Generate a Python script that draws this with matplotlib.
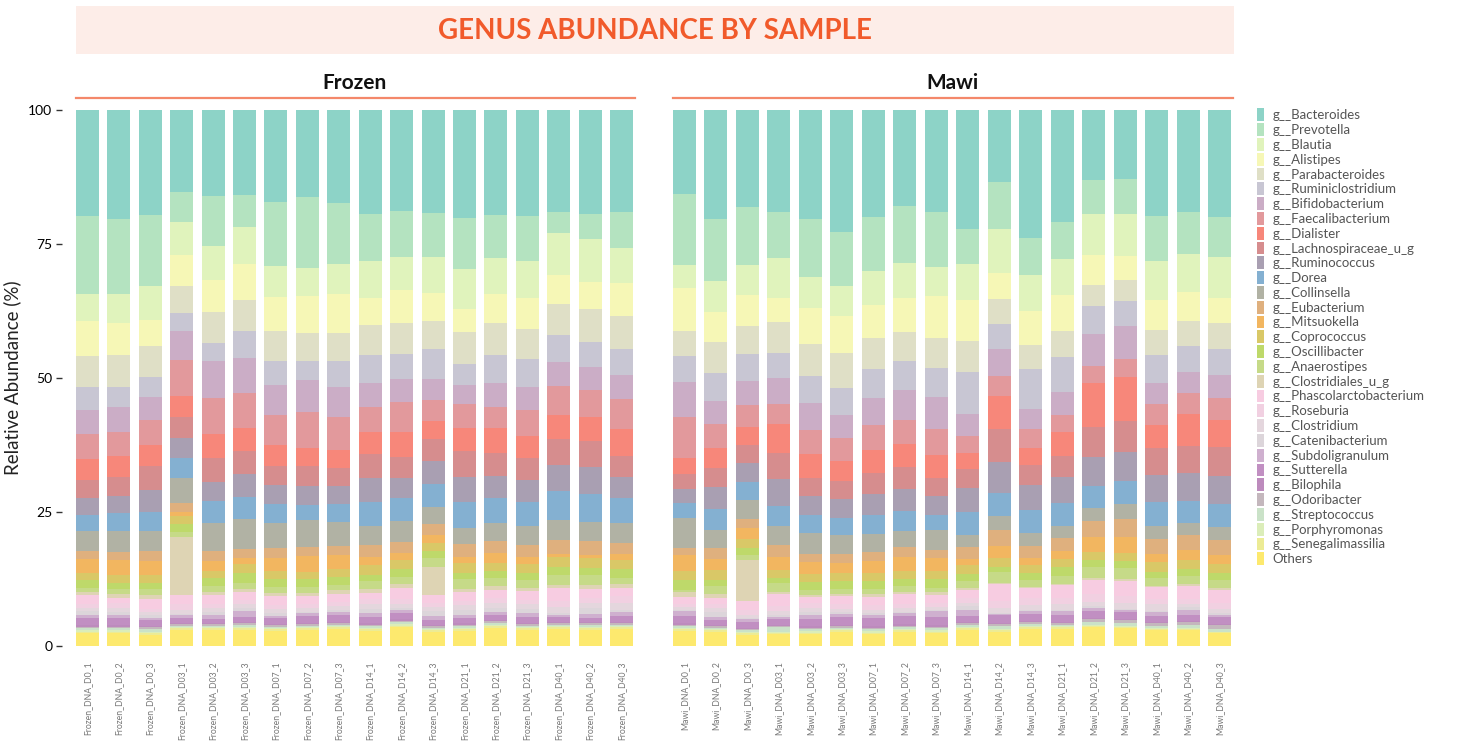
import matplotlib
matplotlib.use("Agg")
import matplotlib.pyplot as plt
from matplotlib.patches import Patch, Rectangle
from matplotlib.lines import Line2D
import numpy as np

plt.rcParams['font.family'] = ['Lato', 'DejaVu Sans']

days = ["D0_1", "D0_2", "D0_3", "D03_1", "D03_2", "D03_3", "D07_1", "D07_2", "D07_3",
        "D14_1", "D14_2", "D14_3", "D21_1", "D21_2", "D21_3", "D40_1", "D40_2", "D40_3"]
frozen_samples = ["Frozen_DNA_" + d for d in days]
mawi_samples = ["Mawi_DNA_" + d for d in days]
panels = ["Frozen", "Mawi"]

genera = ["g__Bacteroides", "g__Prevotella", "g__Blautia", "g__Alistipes", "g__Parabacteroides",
          "g__Ruminiclostridium", "g__Bifidobacterium", "g__Faecalibacterium", "g__Dialister",
          "g__Lachnospiraceae_u_g", "g__Ruminococcus", "g__Dorea", "g__Collinsella", "g__Eubacterium",
          "g__Mitsuokella", "g__Coprococcus", "g__Oscillibacter", "g__Anaerostipes", "g__Clostridiales_u_g",
          "g__Phascolarctobacterium", "g__Roseburia", "g__Clostridium", "g__Catenibacterium",
          "g__Subdoligranulum", "g__Sutterella", "g__Bilophila", "g__Odoribacter", "g__Streptococcus",
          "g__Porphyromonas", "g__Senegalimassilia", "Others"]

colors = ["#8dd3c7", "#b4e3c0", "#e0f3bc", "#f6f7b6", "#dfdfc6",
          "#c8c6d3", "#cbadc6", "#e2999c", "#f7877a",
          "#d68d8e", "#a99fb2", "#84b0d1", "#b1b2a4", "#dfb07e",
          "#f2b660", "#d9c867", "#bed96a", "#c6da88", "#ded4b4",
          "#f7cce1", "#f1d0e1", "#e4d6dd", "#dcd5da",
          "#cfb0cf", "#c18fc2", "#bd8bbd", "#c4b7bd", "#cae2c8",
          "#dbedb9", "#eceb95", "#fde96e"]

# values (%) : first 18 = Frozen samples, last 18 = Mawi samples
bacteroides = [19.8, 20.3, 19.6, 15.3, 16.0, 15.9, 17.2, 16.2, 17.4, 19.4, 18.8, 19.2, 20.1, 19.6, 19.8, 19.0, 19.4, 19.0,
               15.7, 20.3, 18.1, 19.0, 20.3, 22.8, 20.0, 17.9, 19.0, 22.2, 13.4, 23.9, 20.9, 13.1, 12.9, 19.8, 19.0, 20.0]
prevotella = [14.5, 14.0, 13.2, 5.6, 9.4, 5.9, 11.9, 13.3, 11.3, 8.8, 8.6, 8.2, 9.6, 8.0, 8.4, 3.9, 4.7, 6.7,
              13.2, 11.6, 10.8, 8.6, 10.9, 10.0, 10.0, 10.6, 10.3, 6.5, 8.8, 6.9, 6.9, 6.3, 6.5, 8.4, 7.9, 7.4]
blautia = [5.1, 5.4, 6.4, 6.2, 6.3, 6.9, 5.8, 5.2, 5.6, 6.9, 6.2, 6.7, 7.4, 6.7, 6.9, 7.9, 8.0, 6.6,
           4.3, 5.8, 5.6, 7.5, 5.7, 5.6, 6.4, 6.6, 5.4, 6.7, 8.2, 6.7, 6.7, 7.7, 7.8, 7.2, 7.1, 7.7]
alistipes = [6.5, 6.0, 4.8, 5.7, 6.0, 6.7, 6.3, 6.9, 7.3, 5.0, 6.1, 5.3, 4.3, 5.4, 5.8, 5.4, 5.0, 6.1,
             8.0, 5.6, 5.8, 4.5, 6.8, 6.9, 6.1, 6.3, 7.8, 7.7, 4.9, 6.3, 6.7, 5.6, 4.5, 5.6, 5.4, 4.7]
parabacteroides = [5.8, 6.0, 5.8, 5.1, 5.8, 5.8, 5.6, 5.2, 5.2, 5.6, 5.8, 5.2, 6.0, 6.0, 5.6, 5.8, 6.2, 6.2,
                   4.7, 5.8, 5.2, 5.7, 5.9, 6.6, 5.8, 5.4, 5.6, 5.8, 4.6, 4.5, 4.9, 3.9, 3.9, 4.7, 4.7, 4.8]
ruminiclostridium = [4.3, 3.7, 3.8, 3.3, 3.3, 5.1, 4.5, 3.6, 4.9, 5.2, 4.7, 5.6, 3.9, 5.2, 5.2, 5.0, 4.6, 4.8,
                     4.8, 5.2, 5.1, 4.7, 5.1, 5.0, 5.4, 5.4, 5.4, 7.8, 4.7, 7.5, 6.5, 5.1, 4.7, 5.2, 4.8, 4.8]
bifidobacterium = [4.4, 4.7, 4.2, 5.4, 6.9, 6.5, 5.6, 5.9, 5.6, 4.5, 4.3, 3.9, 3.6, 4.5, 4.3, 4.5, 4.3, 4.5,
                   6.6, 4.3, 4.4, 4.9, 5.0, 4.3, 5.1, 5.6, 6.0, 4.1, 5.0, 3.7, 4.3, 6.1, 6.2, 4.0, 3.9, 4.3]
faecalibacterium = [4.7, 4.5, 4.7, 6.8, 6.7, 6.5, 5.6, 6.8, 6.1, 4.7, 5.6, 3.9, 4.4, 3.9, 4.8, 5.4, 5.1, 5.6,
                    7.6, 4.5, 4.1, 3.7, 4.5, 4.3, 4.6, 4.5, 4.9, 3.2, 3.8, 3.6, 3.2, 3.1, 3.3, 3.9, 3.9, 4.1]
dialister = [3.9, 3.9, 3.9, 3.9, 4.5, 4.3, 3.9, 3.3, 3.4, 4.1, 4.6, 3.4, 4.3, 4.7, 4.1, 4.5, 4.5, 5.1,
             3.0, 3.7, 3.4, 5.4, 4.5, 3.7, 4.3, 4.3, 4.3, 3.0, 6.1, 3.1, 4.5, 8.2, 8.2, 4.3, 6.0, 5.1]
lachnospiraceae = [3.4, 3.5, 4.5, 3.9, 4.5, 4.3, 3.6, 3.7, 3.3, 4.5, 4.0, 4.1, 4.9, 4.3, 4.1, 4.8, 4.8, 3.9,
                   2.8, 3.5, 3.4, 4.8, 3.3, 3.4, 3.9, 4.1, 3.3, 3.5, 6.2, 3.8, 3.9, 5.6, 5.8, 5.0, 5.0, 5.4]
ruminococcus = [3.2, 3.2, 4.1, 3.7, 3.5, 4.3, 3.5, 3.6, 3.4, 4.4, 3.7, 4.3, 4.6, 4.1, 4.1, 4.9, 5.0, 3.9,
                2.6, 4.1, 3.5, 5.1, 3.6, 3.5, 4.0, 4.1, 3.6, 4.5, 5.8, 4.6, 4.8, 5.4, 5.4, 5.0, 5.2, 5.2]
dorea = [2.9, 3.3, 3.5, 3.8, 4.2, 4.1, 3.6, 2.8, 3.4, 4.5, 4.3, 4.3, 4.9, 4.7, 4.5, 5.4, 5.3, 4.7,
         2.8, 4.0, 3.4, 3.7, 3.3, 3.2, 3.5, 3.7, 2.8, 4.3, 4.2, 4.3, 4.3, 4.2, 4.3, 4.5, 4.2, 4.3]
collinsella = [3.8, 4.0, 3.8, 4.6, 5.2, 5.6, 4.6, 5.0, 4.4, 3.6, 3.9, 3.1, 3.0, 3.3, 3.6, 3.7, 3.5, 3.7,
               5.6, 3.3, 3.5, 3.6, 3.9, 3.5, 3.4, 3.0, 3.7, 2.2, 2.7, 2.4, 2.3, 2.4, 2.8, 2.4, 2.2, 2.4]
eubacterium = [1.5, 1.5, 1.8, 1.7, 1.8, 1.7, 1.9, 1.7, 1.7, 2.2, 2.0, 2.1, 2.4, 2.2, 2.2, 2.6, 2.6, 2.0,
               1.3, 2.1, 1.7, 2.2, 1.5, 1.7, 1.6, 1.9, 1.5, 2.3, 2.9, 2.3, 2.4, 3.0, 3.4, 2.8, 2.8, 2.8]
mitsuokella = [2.6, 2.8, 2.7, 0.7, 1.9, 1.1, 2.4, 3.0, 2.6, 1.5, 1.4, 1.5, 1.1, 1.9, 1.3, 0.6, 0.6, 1.2,
               3.0, 2.0, 2.0, 2.4, 2.3, 1.9, 2.3, 2.6, 2.4, 1.1, 2.2, 1.3, 1.5, 2.8, 2.9, 1.5, 1.9, 1.7]
coprococcus = [1.3, 1.4, 1.4, 1.5, 1.3, 1.7, 1.5, 1.3, 1.5, 1.9, 1.6, 1.5, 1.9, 1.5, 1.7, 1.9, 1.8, 1.6,
               1.7, 1.9, 1.7, 1.5, 1.5, 1.5, 1.5, 1.5, 1.5, 1.7, 1.8, 1.5, 1.5, 1.5, 1.5, 1.9, 1.6, 1.7]
oscillibacter = [1.5, 1.2, 1.2, 1.5, 1.5, 1.8, 1.5, 1.5, 1.5, 1.1, 1.5, 1.3, 1.1, 1.3, 1.3, 1.5, 1.4, 1.7,
                 1.9, 1.1, 1.3, 0.9, 1.5, 1.5, 1.5, 1.3, 1.7, 1.3, 0.9, 1.3, 1.6, 1.3, 1.3, 1.1, 1.3, 1.3]
anaerostipes = [0.7, 0.9, 1.1, 1.0, 1.1, 1.2, 1.1, 1.1, 1.0, 1.5, 1.3, 1.7, 1.9, 1.5, 1.5, 1.8, 1.8, 1.1,
                0.3, 1.5, 1.0, 1.7, 0.9, 0.9, 0.9, 1.1, 0.7, 1.3, 2.0, 1.3, 1.5, 2.0, 2.1, 1.5, 1.5, 1.5]
clostridiales_ug = [0.6, 0.7, 0.7, 10.8, 0.6, 0.5, 0.6, 0.6, 0.7, 0.7, 0.8, 5.2, 0.5, 0.8, 0.5, 0.6, 0.8, 0.8,
                    1.0, 0.7, 7.6, 0.4, 0.4, 0.4, 0.6, 0.4, 0.6, 0.4, 0.2, 0.2, 0.2, 0.4, 0.4, 0.2, 0.4, 0.4]
phascolarctobacterium = [1.7, 1.0, 1.9, 1.7, 1.7, 1.5, 1.7, 1.5, 1.5, 1.1, 2.0, 1.5, 1.7, 1.4, 1.7, 2.4, 1.6, 1.5,
                         1.3, 1.2, 1.7, 2.2, 1.1, 1.5, 1.5, 1.9, 1.5, 1.4, 3.2, 1.8, 2.4, 2.6, 2.8, 2.2, 2.4, 2.4]
roseburia = [0.7, 0.9, 0.6, 1.1, 0.8, 0.8, 0.7, 0.7, 0.7, 1.0, 1.0, 0.7, 0.8, 1.0, 0.8, 1.1, 1.0, 1.3,
             0.5, 0.7, 0.9, 1.0, 0.9, 0.9, 0.9, 0.7, 0.7, 1.0, 1.3, 1.4, 1.2, 1.5, 1.3, 1.0, 1.0, 1.1]
clostridium = [0.6, 0.8, 0.5, 0.7, 0.7, 0.7, 0.7, 0.8, 0.8, 0.9, 0.7, 0.8, 0.9, 0.9, 0.9, 1.1, 0.9, 1.3,
               0.6, 0.8, 0.5, 0.7, 0.8, 0.6, 0.5, 0.8, 0.6, 0.5, 0.9, 0.9, 1.1, 0.7, 1.1, 1.3, 0.5, 0.7]
catenibacterium = [0.7, 0.5, 0.6, 0.2, 0.5, 0.6, 0.6, 0.2, 0.4, 0.7, 0.4, 0.9, 0.9, 0.8, 0.7, 0.4, 1.1, 0.4,
                   0.2, 0.9, 0.3, 0.4, 0.5, 0.3, 0.4, 0.1, 0.2, 0.8, 0.2, 0.2, 0.2, 0.4, 0.2, 0.2, 0.6, 0.4]
subdoligranulum = [0.6, 0.6, 0.3, 0.6, 0.8, 1.1, 0.4, 0.5, 0.5, 0.8, 0.5, 0.7, 0.6, 0.5, 0.8, 0.4, 0.8, 0.7,
                   0.9, 0.5, 0.5, 0.4, 0.8, 0.6, 0.6, 0.6, 1.1, 1.1, 0.2, 0.5, 0.7, 0.6, 0.4, 0.7, 0.9, 0.4]
sutterella = [1.3, 1.3, 1.2, 0.9, 0.7, 0.9, 1.1, 1.3, 1.3, 1.1, 1.2, 1.0, 0.9, 0.9, 1.1, 0.9, 0.7, 1.1,
              1.3, 1.0, 1.1, 1.1, 1.3, 1.5, 1.5, 1.5, 1.5, 1.1, 1.5, 1.3, 1.3, 1.3, 1.3, 1.1, 1.1, 1.3]
bilophila = [0.3, 0.3, 0.2, 0.2, 0.2, 0.3, 0.2, 0.2, 0.2, 0.3, 0.3, 0.2, 0.3, 0.3, 0.2, 0.2, 0.3, 0.2,
             0.3, 0.2, 0.2, 0.2, 0.3, 0.2, 0.3, 0.3, 0.3, 0.3, 0.2, 0.3, 0.2, 0.2, 0.2, 0.2, 0.2, 0.2]
odoribacter = [0.3, 0.3, 0.3, 0.3, 0.3, 0.3, 0.3, 0.3, 0.3, 0.3, 0.3, 0.3, 0.3, 0.3, 0.3, 0.3, 0.3, 0.3,
               0.3, 0.3, 0.3, 0.2, 0.3, 0.3, 0.3, 0.3, 0.3, 0.3, 0.4, 0.3, 0.3, 0.5, 0.5, 0.6, 0.6, 0.7]
streptococcus = [0.3, 0.3, 0.5, 0.3, 0.3, 0.3, 0.3, 0.3, 0.3, 0.3, 0.3, 0.3, 0.3, 0.3, 0.3, 0.3, 0.3, 0.3,
                 0.3, 0.3, 0.3, 0.8, 0.3, 0.3, 0.3, 0.3, 0.3, 0.3, 0.6, 0.3, 0.3, 0.5, 0.5, 0.3, 0.5, 0.5]
porphyromonas = [0.3, 0.3, 0.3, 0.2, 0.2, 0.3, 0.2, 0.2, 0.2, 0.3, 0.3, 0.2, 0.3, 0.3, 0.2, 0.2, 0.3, 0.2,
                 0.3, 0.2, 0.2, 0.2, 0.3, 0.2, 0.3, 0.3, 0.3, 0.3, 0.2, 0.3, 0.2, 0.2, 0.2, 0.2, 0.2, 0.1]
senegalimassilia = [0.3, 0.3, 0.3, 0.3, 0.3, 0.3, 0.3, 0.3, 0.3, 0.3, 0.3, 0.3, 0.3, 0.3, 0.3, 0.3, 0.3, 0.3,
                    0.3, 0.3, 0.3, 0.3, 0.3, 0.3, 0.3, 0.3, 0.3, 0.3, 0.3, 0.3, 0.3, 0.2, 0.2, 0.2, 0.2, 0.2]
others = [2.4, 2.4, 2.1, 3.0, 3.0, 3.0, 2.8, 3.0, 3.2, 2.8, 3.5, 2.6, 2.8, 3.4, 3.0, 3.2, 3.0, 3.2,
          2.8, 2.6, 2.1, 2.2, 2.2, 2.6, 2.2, 2.6, 2.4, 3.0, 2.6, 3.2, 3.2, 3.6, 3.4, 3.0, 3.0, 2.4]

series = [bacteroides, prevotella, blautia, alistipes, parabacteroides, ruminiclostridium,
          bifidobacterium, faecalibacterium, dialister, lachnospiraceae, ruminococcus, dorea,
          collinsella, eubacterium, mitsuokella, coprococcus, oscillibacter, anaerostipes,
          clostridiales_ug, phascolarctobacterium, roseburia, clostridium, catenibacterium,
          subdoligranulum, sutterella, bilophila, odoribacter, streptococcus, porphyromonas,
          senegalimassilia, others]

W, H = 1482, 742
fig = plt.figure(figsize=(W / 100, H / 100), dpi=100)


def fx(px):
    return px / W


def fy(py):
    return 1 - py / H


# Title banner
fig.patches.append(Rectangle((fx(76), fy(54)), fx(1234) - fx(76), fy(6) - fy(54),
                             transform=fig.transFigure, facecolor="#fdede8", edgecolor="none", zorder=0))
fig.text(fx(655), fy(31), "GENUS ABUNDANCE BY SAMPLE", ha="center", va="center",
         fontsize=20, fontweight="bold", color="#f15a2b")

panel_px = [(76, 633), (673, 1231)]
sample_sets = [frozen_samples, mawi_samples]
bw = 0.73
for pi, (panel, (x0, x1), samples) in enumerate(zip(panels, panel_px, sample_sets)):
    ax = fig.add_axes([fx(x0), fy(646), fx(x1) - fx(x0), fy(110) - fy(646)])
    x = np.arange(len(samples))
    bottom = np.zeros(len(samples))
    sl = slice(pi * 18, pi * 18 + 18)
    for name, vals, col in reversed(list(zip(genera, series, colors))):
        v = np.array(vals[sl])
        ax.bar(x, v, width=bw, bottom=bottom, color=col, edgecolor="none", linewidth=0)
        bottom += v
    ax.set_xlim(-bw / 2, len(samples) - 1 + bw / 2)
    ax.set_ylim(0, 100)
    for s in ax.spines.values():
        s.set_visible(False)
    ax.set_xticks(x)
    ax.set_xticklabels(samples, rotation=90, fontsize=6.2, color="#777777")
    ax.tick_params(axis="x", length=0, pad=11)
    ax.set_yticks([0, 25, 50, 75, 100])
    if pi == 0:
        ax.set_yticklabels(["0", "25", "50", "75", "100"], fontsize=11, color="#222222")
        ax.tick_params(axis="y", length=4, width=1, color="#333333", pad=3)
        ax.spines["left"].set_position(("outward", 10))
        ax.set_ylabel("Relative Abundance (%)", fontsize=13.5, color="#222222", labelpad=5)
    else:
        ax.set_yticklabels([])
        ax.tick_params(axis="y", length=0)
    # panel strip title + underline
    fig.text(fx((x0 + x1) / 2), fy(83), panel, ha="center", va="center",
             fontsize=15, fontweight="bold", color="#111111")
    fig.add_artist(Line2D([fx(x0), fx(x1 + 2)], [fy(97.5), fy(97.5)], transform=fig.transFigure,
                          color="#f4886a", linewidth=1.6))

handles = [Patch(facecolor=c, edgecolor="none") for c in colors]
fig.legend(handles, genera, loc="upper left", bbox_to_anchor=(fx(1257), fy(108.5)),
           frameon=False, fontsize=9.5, handlelength=0.55, handleheight=1.1,
           handletextpad=0.6, labelspacing=0.15, borderpad=0, borderaxespad=0,
           labelcolor="#555555")

fig.savefig("out.png", dpi=100)
